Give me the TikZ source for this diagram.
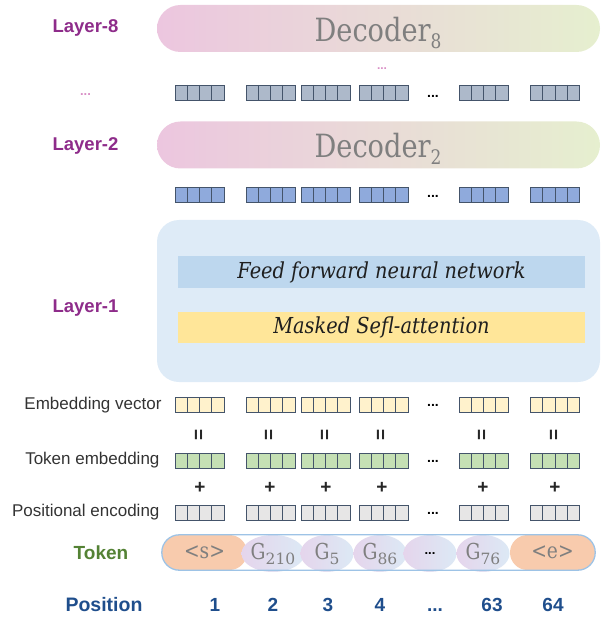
\documentclass[tikz,border=0pt]{standalone}
\usepackage{fontspec}
\usepackage{graphicx}
\newfontfamily\arialf{Liberation Sans}
\newfontfamily\dvs{DejaVu Serif}
\usetikzlibrary{shapes.geometric}
\definecolor{layerpurple}{HTML}{8E2C8A}
\definecolor{pinkL}{HTML}{ECC6DF}
\definecolor{pinkM}{HTML}{EBD4E4}
\definecolor{greenL}{HTML}{E6EFCF}
\definecolor{dotpink}{HTML}{D98FC6}
\definecolor{cellc}{HTML}{44546A}
\definecolor{c8}{HTML}{ADB9CA}
\definecolor{c2}{HTML}{8FAADC}
\definecolor{cemb}{HTML}{FFF2CC}
\definecolor{ctok}{HTML}{C5E0B4}
\definecolor{cpos}{HTML}{E7E6E6}
\definecolor{boxblue}{HTML}{DEEBF7}
\definecolor{ffnblue}{HTML}{BDD7EE}
\definecolor{maskyel}{HTML}{FFE699}
\definecolor{orangeT}{HTML}{F8CBAD}
\definecolor{pillblue}{HTML}{9DC3E6}
\definecolor{ellL}{HTML}{E5D5EC}
\definecolor{ellR}{HTML}{DCE9F5}
\definecolor{tokgreen}{HTML}{548235}
\definecolor{posblue}{HTML}{1F4E8C}
\definecolor{labgray}{HTML}{333333}
\definecolor{txtgray}{HTML}{7F7F7F}
\newcommand{\decotxt}[1]{\scalebox{0.85}[1]{\dvs\fontsize{32}{34}\selectfont Decoder\raisebox{-7pt}{\fontsize{20}{20}\selectfont #1}}}
\newcommand{\gtok}[1]{{\dvs\scalebox{0.85}[1]{\fontsize{22}{24}\selectfont G}\raisebox{-5pt}{\fontsize{15.5}{16}\selectfont #1}}}
\newcommand{\tokterm}[1]{\scalebox{0.85}[1]{\dvs\fontsize{22}{24}\selectfont #1}}
\newcommand{\bartxt}[1]{\scalebox{0.88}[1]{\dvs\itshape\fontsize{22}{24}\selectfont #1}}
\tikzset{
  vecbox/.style={draw=cellc, fill=#1, minimum width=49pt, minimum height=15pt, inner sep=0pt, line width=0.8pt,
    path picture={\foreach \k in {1,2,3} \draw[cellc, line width=0.8pt] ([xshift=\k*12.25pt]path picture bounding box.north west) -- ([xshift=\k*12.25pt]path picture bounding box.south west);}},
  decoderpill/.style={rounded corners=23.5pt, minimum width=443pt, minimum height=47pt, inner sep=0pt, left color=pinkL, middle color=pinkM, right color=greenL},
  decotext/.style={text=txtgray, inner sep=0pt},
  layerlab/.style={text=layerpurple, font=\arialf\bfseries\fontsize{18.5}{20}\selectfont},
  rowlab/.style={anchor=east, text=labgray, font=\arialf\fontsize{17}{19}\selectfont},
  sign/.style={font=\arialf\bfseries\fontsize{19}{20}\selectfont, text=black!85},
  rowdots/.style={font=\arialf\bfseries\fontsize{14}{16}\selectfont},
  barbox/.style={minimum width=407pt, inner sep=0pt, text=black!88},
  tokell/.style={ellipse, minimum width=53pt, minimum height=37pt, inner sep=0pt, left color=ellL, right color=ellR, text=txtgray},
  tokend/.style={rounded corners=17.5pt, minimum width=85pt, minimum height=35pt, inner sep=0pt, fill=orangeT, text=txtgray},
  poslab/.style={text=posblue, font=\arialf\bfseries\fontsize{19}{20}\selectfont},
}
\begin{document}
\begin{tikzpicture}[x=1pt,y=-1pt]
\useasboundingbox (0,0) rectangle (601,617);

% Layer labels
\node[layerlab] (l8) at (85.5,28) {Layer-8};
\node[text=dotpink, font=\arialf\bfseries\fontsize{13}{16}\selectfont] (ldots) at (85.5,95) {...};
\node[layerlab] (l2) at (85.5,146) {Layer-2};
\node[layerlab] (l1) at (85.5,308) {Layer-1};

% Decoder 8
\node[decoderpill] (dec8) at (378.5,28.5) {};
\node[decotext, anchor=base] (dec8t) at (378,41.5) {\decotxt{8}};
\node[text=dotpink, font=\arialf\bfseries\fontsize{12}{14}\selectfont] (pdots) at (382,69) {...};

% row 8
\foreach \x/\n in {199.5/a,270.5/b,325.5/c,383.5/d,483.5/e,555/f}
  \node[vecbox=c8] (r8\n) at (\x,92.5) {};
\node[rowdots] (r8dots) at (433,96) {...};

% Decoder 2
\node[decoderpill] (dec2) at (378.5,145) {};
\node[decotext, anchor=base] (dec2t) at (378,158) {\decotxt{2}};

% row 2
\foreach \x/\n in {199.5/a,270.5/b,325.5/c,383.5/d,483.5/e,555/f}
  \node[vecbox=c2] (r2\n) at (\x,194.5) {};
\node[rowdots] (r2dots) at (433,196) {...};

% Layer 1 box
\node[rounded corners=22pt, fill=boxblue, minimum width=443pt, minimum height=162pt, inner sep=0pt] (l1box) at (378.5,301) {};
\node[barbox, fill=ffnblue, minimum height=32pt] (ffn) at (381.5,272) {\bartxt{Feed forward neural network}};
\node[barbox, fill=maskyel, minimum height=31pt] (msa) at (381.5,327.5) {\bartxt{Masked Sefl-attention}};

% embedding rows
\node[rowlab] (embl) at (165,405) {Embedding vector};
\node[rowlab] (tokl) at (163,460) {Token embedding};
\node[rowlab] (posl) at (163,512) {Positional encoding};
\foreach \x/\n in {199.5/a,270.5/b,325.5/c,383.5/d,483.5/e,555/f}{
  \node[vecbox=cemb] (re\n) at (\x,404.5) {};
  \node[vecbox=ctok] (rt\n) at (\x,460.5) {};
  \node[vecbox=cpos] (rp\n) at (\x,512.5) {};
}
\foreach \x/\n in {200/a,270/b,326/c,382/d,483/e,555/f}{
  \node[sign, rotate=90] (eq\n) at (\x,435) {=};
  \node[sign] (pl\n) at (\x,487.5) {+};
}
\node[rowdots] (redots) at (433,405) {...};
\node[rowdots] (rtdots) at (433,461) {...};
\node[rowdots] (rpdots) at (433,513) {...};

% Token row
\node[text=tokgreen, font=\arialf\bfseries\fontsize{19}{20}\selectfont] (tokenlab) at (101,553) {Token};
\node[rounded corners=17.5pt, fill=white, minimum width=433pt, minimum height=35pt, inner sep=0pt] (tokpill) at (378.5,552.5) {};
\node[tokend] (ts) at (204.5,552.5) {\tokterm{<s>}};
\node[tokend] (te) at (552.5,552.5) {\tokterm{<e>}};
\node[tokell] (g210) at (273,553.5) {\gtok{210}};
\node[tokell] (g5) at (327,553.5) {\gtok{5}};
\node[tokell] (g86) at (380,553.5) {\gtok{86}};
\node[tokell, text=black, font=\arialf\bfseries\fontsize{13}{14}\selectfont] (gdots) at (430,553.5) {...};
\node[tokell] (g76) at (483,553.5) {\gtok{76}};
\draw[pillblue, line width=1.3pt, rounded corners=17.5pt] (tokpill.north west) rectangle (tokpill.south east);

% Position row
\node[text=posblue, font=\arialf\bfseries\fontsize{19.5}{20}\selectfont] (poslab0) at (104,605) {Position};
\foreach \x/\t/\n in {215/1/a,273/2/b,328/3/c,380/4/d,492/63/f,553/64/g}
  \node[poslab] (p\n) at (\x,605) {\t};
\node[poslab] (pe) at (435,610) {...};
\end{tikzpicture}
\end{document}
